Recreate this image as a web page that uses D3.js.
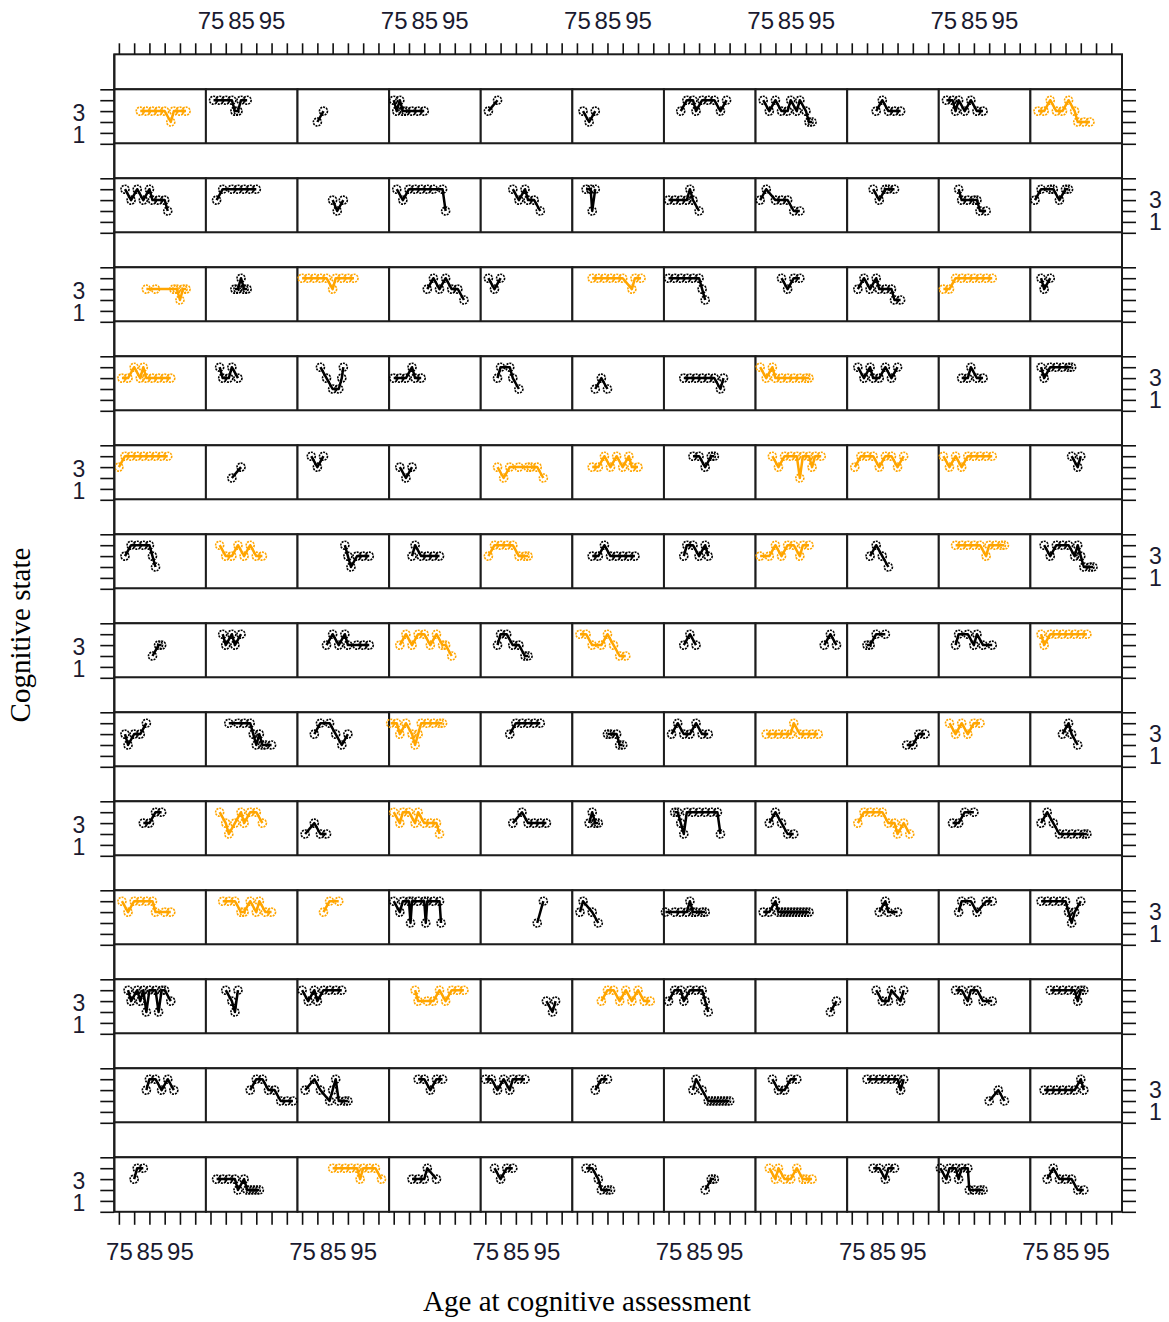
<!DOCTYPE html>
<html>
<head>
<meta charset="utf-8">
<script src="https://cdn.jsdelivr.net/npm/d3@7"></script>
<style>
  body { margin: 0; background: #ffffff; }
  svg { display: block; }
</style>
</head>
<body>
<svg id="chart" width="1169" height="1322"></svg>
<script>
// ---- axis values ----
const ageTicks = [75, 80, 85, 90, 95, 100];
const ageTickLabels = [75, 85, 95];
const stateTicks = [0, 1, 2, 3, 4, 5];
const stateTickLabels = [1, 3];
const xTitle = "Age at cognitive assessment";
const yTitle = "Cognitive state";

// ---- trajectories: one string per panel, "age:state" per assessment ----
const row01 = [
  "82:3 84:3 86:3 88:3 90:3 92:2 93:3 95:3 97:3",
  "76:4 78:4 80:4 82:4 83:3 84:3 85:4 87:4",
  "80:2 82:3",
  "75:4 76:3 77:4 78:3 79:3 81:3 83:3 85:3",
  "76:3 79:4",
  "77:3 79:2 81:3",
  "79:3 81:4 83:4 84:3 86:4 88:4 90:4 92:3 94:4",
  "76:4 78:3 80:4 82:3 84:3 85:4 87:3 88:4 90:3 91:2 92:2",
  "83:3 85:4 87:3 89:3 91:3",
  "76:4 78:4 79:3 80:4 82:3 84:4 86:3 88:3",
  "76:3 78:3 80:4 82:3 84:3 86:4 88:3 89:2 91:2 93:2"
];
const row02 = [
  "77:4 79:3 81:4 83:3 85:4 86:3 88:3 90:3 91:2",
  "77:3 79:4 82:4 84:4 86:4 88:4 90:4",
  "85:3 86.5:2 88.5:3",
  "76:4 78:3 80:4 82:4 84:4 86:4 88:4 91:4 92:2",
  "84:4 86:3 88:4 89:3 91:3 93:2",
  "78:4 79.5:4 80:2 81:4",
  "75:3 77:3 79:3 81:3 82:4 83:3 85:2",
  "75:3 77:4 80:3 82:3 84:3 86:2 88:2",
  "82:4 84:3 86:4 87:4 89:4",
  "80:4 81:3 83:3 85:3 86:3 87:2 89:2",
  "75:3 77:4 80:4 81:4 83:3 85:4 86:4"
];
const row03 = [
  "84:3 87:3 93:3 94:3 95:2 96:3 97:3",
  "83:3 84:3 85:4 86:3 87:3",
  "75:4 77:4 79:4 81:4 83:4 85:3 86:4 88:4 90:4 92:4",
  "86:3 88:4 90:3 92:4 94:3 96:3 98:2",
  "76:4 78:3 80:4",
  "80:4 82:4 84:4 86:4 88:4 90:4 93:3 94:4 96:4",
  "75:4 77:4 79:4 81:4 83:4 85:4 86:3 87:2",
  "82:4 84:3 86:4 88:4",
  "77:3 79:4 81:3 83:4 84:3 86:3 88:3 89:2 91:2",
  "75:3 77:3 79:4 81:4 83:4 85:4 87:4 89:4 91:4",
  "77:4 78:3 80:4"
];
const row04 = [
  "76:3 78:3 80:4 82:3 83:4 84:3 86:3 88:3 90:3 92:3",
  "78:4 79:3 81:3 82:4 84:3",
  "81:4 83:3 85:2 87:2 88:3 88.5:4",
  "75:3 77:3 79:3 81:4 82:3 84:3",
  "79:3 80:4 83:4 84:3 86:2",
  "81:2 83:3 85:2",
  "80:3 82:3 84:3 86:3 88:3 90:3 92:2 93:3",
  "75:4 77:3 79:4 80:3 82:3 84:3 86:3 88:3 90:3 91:3",
  "77:4 79:3 81:4 82:3 84:3 86:4 88:3 90:4",
  "81:3 83:3 84:4 86:3 88:3",
  "77:4 78:3 80:4 82:4 84:4 86:4 87:4"
];
const row05 = [
  "75:3 77:4 79:4 81:4 83:4 85:4 87:4 89:4 91:4",
  "82:2 85:3",
  "78:4 80:3 82:4",
  "77:3 79:2 81:3",
  "79:3 81:2 83:3 86:3 89:3 90:3 92:3 94:2",
  "80:3 82:3 84:4 86:3 88:4 90:3 92:4 93:3 95:3",
  "83:4 85:4 87:3 89:4 90:4",
  "79:4 81:3 83:4 85:4 87:4 88:2 89:4 91:4 92:3 93:4 95:4",
  "76:3 78:4 80:4 82:4 84:3 86:4 88:4 90:3 92:4",
  "75:4 77:3 79:4 81:3 83:4 85:4 87:4 89:4 91:4",
  "87:4 89:3 90:4"
];
const row06 = [
  "77:3 79:4 81:4 83:4 85:4 86:3 87:2",
  "78:4 80:3 82:3 84:4 86:3 88:4 90:3 92:3",
  "89:4 90:3 91:2 93:3 95:3 97:3",
  "81:3 82:4 84:3 86:3 88:3 90:3",
  "76:3 78:4 80:4 82:4 84:4 86:3 88:3 89:3",
  "80:3 82:3 84:4 86:3 88:3 90:3 92:3 94:3",
  "80:3 81:4 83:4 85:3 87:4 88:3",
  "75:3 78:3 80:4 82:3 84:4 86:4 88:3 89:4 91:4",
  "81:3 83:4 85:3 87:2",
  "79:4 81:4 83:4 85:4 87:4 89:3 90:4 92:4 94:4 95:4",
  "78:4 80:3 82:4 84:4 86:4 88:3 89:4 90:3 91:2 93:2 94:2"
];
const row07 = [
  "86:2 88:3 89:3",
  "79:4 80:3 82:4 83:3 85:4",
  "83:3 85:4 87:3 89:4 90:3 93:3 95:3 97:3",
  "77:3 79:4 81:3 83:4 85:4 87:3 89:4 91:3 92:3 94:2",
  "79:3 80:4 82:4 84:3 86:3 88:2 89:2",
  "76:4 78:4 80:3 83:3 85:4 87:3 89:2 91:2",
  "80:3 82:4 84:3",
  "96:3 98:4 100:3",
  "80:3 81:3 83:4 86:4",
  "79:3 80:4 83:4 85:3 86:4 88:3 91:3",
  "77:4 78:3 80:4 82:4 84:4 86:4 88:4 90:4 92:4"
];
const row08 = [
  "77:3 78:2 80:3 82:3 84:4",
  "81:4 84:4 86:4 88:4 89:3 90:2 91:3 92:2 93:2 95:2",
  "79:3 81:4 84:4 86:3 88:2 90:3",
  "74:4 76:4 77:3 79:4 81:3 82:2 83:3 84:4 86:4 88:4 90:4 91:4",
  "83:3 85:4 87:4 89:4 91:4 93:4",
  "85:3 86:3 88:3 89:2 90:2",
  "76:3 78:4 80:3 82:3 84:4 86:3 88:3",
  "77:3 79:3 81:3 83:3 85:3 86:4 88:3 90:3 92:3 94:3",
  "93:2 95:2 97:3 99:3",
  "77:4 79:3 81:4 83:3 85:4 87:4",
  "84:3 86:4 87:3 89:2"
];
const row09 = [
  "83:3 85:3 87:4 89:4",
  "78:4 80:3 81:2 83:3 85:4 86:3 88:4 90:4 92:3",
  "76:2 79:3 81:2 83:2",
  "75:4 77:3 78:4 80:4 82:3 83:4 85:3 87:3 89:3 90:2",
  "84:3 87:4 89:3 91:3 93:3 95:3",
  "79:3 80:4 81:3 82:3",
  "77:4 78:4 79:3 80:2 81:4 83:4 85:4 87:4 89:4 91:4 92:2",
  "78:3 80:4 82:3 84:2 86:2",
  "77:3 79:4 81:4 83:4 85:4 87:3 89:3 90:2 92:3 94:2",
  "78:3 80:3 82:4 85:4",
  "77:3 79:4 81:3 83:2 85:2 87:2 89:2 91:2 92:2"
];
const row10 = [
  "76:4 78:3 80:4 82:4 84:4 86:4 87:3 90:3 92:3",
  "79:4 81:4 83:4 85:3 86:3 88:4 90:3 91:4 93:3 95:3",
  "82:3 84:4 87:4",
  "75:4 77:3 78:4 80:4 80.5:2 81:4 83:4 85:4 85.5:2 86:4 88:4 90:4 90.5:2",
  "92:2 94:4",
  "76:3 77:4 80:3 82:2",
  "74:3 77:3 79:3 81:3 82:4 83:3 84:3 86:3 87:3",
  "76:3 78:3 80:4 81:3 82:3 83:3 84:3 85:3 86:3 87:3 88:3 89:3 90:3 91:3",
  "84:3 86:4 87:3 90:3",
  "80:3 81:4 84:4 86:3 89:4 91:4",
  "77:4 79:4 81:4 83:4 85:4 86:3 87:2 88:3 90:4"
];
const row11 = [
  "78:4 79:3 81:4 82:3 83:4 84:2 85:4 87:4 88:2 89:4 90:4 92:3",
  "80:4 82:3 83:2 84:4",
  "75:4 77:3 79:4 80:3 82:4 84:4 86:4 88:4",
  "82:4 83:3 86:3 88:3 90:4 92:3 94:4 96:4 98:4",
  "95:3 97:2 98:3",
  "83:3 85:4 87:4 89:3 91:4 93:3 95:4 97:3 99:3",
  "75:3 77:4 79:4 80:3 82:4 84:4 86:4 87:3 88:2",
  "98:2 100:3",
  "83:4 85:3 87:3 88:4 91:3 92:4",
  "79:4 81:4 83:3 84:4 86:4 88:3 91:3",
  "80:4 82:4 84:4 86:4 88:4 89:3 90:4 91:4"
];
const row12 = [
  "84:3 85:4 87:4 89:3 91:4 93:3",
  "88:3 90:4 92:4 94:3 96:3 98:2 100:2 102:2",
  "76:3 79:4 81:3 84:2 85:3 86:4 87:2 89:2 90:2",
  "83:4 85:4 87:3 89:4 91:4",
  "75:4 77:4 79:3 81:4 83:3 84:4 86:4 88:4",
  "81:3 83:4 85:4",
  "83:3 84:4 86:3 88:2 89:2 90:2 91:2 92:2 93:2 94:2 95:2",
  "79:4 81:3 83:3 85:4 87:4",
  "80:4 82:4 84:4 86:4 88:4 90:4 91:3 92:4",
  "90:2 93:3 95:2",
  "78:3 80:3 82:3 84:3 86:3 88:3 90:4 91:3"
];
const row13 = [
  "80:3 81:4 83:4",
  "77:3 79:3 81:3 83:3 84:2 86:3 87:2 88:2 89:2 90:2 91:2",
  "85:4 87:4 89:4 91:4 93:4 94:3 95:4 97:4 99:4 101:3",
  "81:3 83:3 85:3 86:4 89:3",
  "78:4 80:3 82:4 84:4",
  "78:4 80:4 82:3 83:2 85:2 86:2",
  "87:2 89:3 90:3",
  "78:4 80:3 81:4 83:3 85:3 87:4 89:3 90:3 92:3",
  "82:4 84:4 86:3 87:4 89:4",
  "74:4 76:3 77:4 79:4 80:3 81:4 83:4 83.5:2 85:2 87:2 88:2",
  "79:3 81:4 83:3 85:3 87:3 89:2 91:2"
];

// subjects drawn in the second group colour ("1"), one flag per column
const groupFlags = [
  "10000000001",
  "00000000000",
  "10100100010",
  "10000001000",
  "10001101110",
  "01001001010",
  "00010100001",
  "00010001010",
  "01010000100",
  "11100000000",
  "00010100000",
  "00000000000",
  "00100001000"
];

const rows = [row01, row02, row03, row04, row05, row06, row07,
              row08, row09, row10, row11, row12, row13];

// ---- layout ----
const nCols = 11, nRows = rows.length;
const gridLeft = 114.3, gridRight = 1122;
const colW = (gridRight - gridLeft) / nCols;
const firstPanelTop = 89.3, rowStep = 89, panelH = 54.5, stripH = 35;
const ageDomain = [73.5, 103.5];
const stateDomain = [0, 5];
const groupColors = ["#000000", "#FFA500"];
const frameColor = "#1c1c1c";
const tickFont = "'Liberation Sans', Arial, sans-serif";
const tickColor = "#1a1a30";
const titleFont = "'Liberation Serif', 'Times New Roman', serif";

const svg = d3.select("#chart");

const parse = s => s.trim().split(/\s+/).map(p => p.split(":").map(Number));

const panelTop = r => firstPanelTop + r * rowStep;
const xScale = c => d3.scaleLinear().domain(ageDomain)
  .range([gridLeft + c * colW, gridLeft + (c + 1) * colW]);
const yScale = r => d3.scaleLinear().domain(stateDomain)
  .range([panelTop(r) + panelH, panelTop(r)]);

// strips and panel frames
rows.forEach((row, r) => {
  svg.append("rect")
    .attr("x", gridLeft).attr("y", panelTop(r) - stripH)
    .attr("width", gridRight - gridLeft).attr("height", stripH)
    .attr("fill", "#fff").attr("stroke", frameColor).attr("stroke-width", 2);
  row.forEach((_, c) => {
    svg.append("rect")
      .attr("x", gridLeft + c * colW).attr("y", panelTop(r))
      .attr("width", colW).attr("height", panelH)
      .attr("fill", "#fff").attr("stroke", frameColor).attr("stroke-width", 2);
  });
});

// trajectories: joined points with open circles
const line = (x, y) => d3.line().x(d => x(d[0])).y(d => y(d[1]));
rows.forEach((row, r) => {
  const y = yScale(r);
  row.forEach((traj, c) => {
    const x = xScale(c);
    const pts = parse(traj);
    const col = groupColors[+groupFlags[r][c]];
    const g = svg.append("g");
    g.append("path")
      .attr("d", line(x, y)(pts))
      .attr("fill", "none").attr("stroke", col)
      .attr("stroke-width", 2.5).attr("stroke-linejoin", "round");
    g.selectAll("circle").data(pts).join("circle")
      .attr("cx", d => x(d[0])).attr("cy", d => y(d[1]))
      .attr("r", 4)
      .attr("fill", "none").attr("stroke", col)
      .attr("stroke-width", 1.6).attr("stroke-dasharray", "2 1");
  });
});

function styleAxis(g) {
  g.select(".domain").remove();
  g.selectAll(".tick line").attr("stroke", "#111").attr("stroke-width", 1.6);
  g.selectAll(".tick text")
    .attr("fill", tickColor)
    .style("font-family", tickFont)
    .style("font-size", "24px");
}

// x axes: top labels on odd columns, bottom labels on even columns
const bottomY = panelTop(nRows - 1) + panelH;
for (let c = 0; c < nCols; c++) {
  const x = xScale(c);
  svg.append("g")
    .attr("transform", `translate(0,${panelTop(0) - stripH})`)
    .call(d3.axisTop(x).tickValues(ageTicks).tickSize(11).tickPadding(14)
      .tickFormat(d => (c % 2 === 1 && ageTickLabels.includes(d)) ? d : ""))
    .call(styleAxis);
  svg.append("g")
    .attr("transform", `translate(0,${bottomY})`)
    .call(d3.axisBottom(x).tickValues(ageTicks).tickSize(13).tickPadding(18.5)
      .tickFormat(d => (c % 2 === 0 && ageTickLabels.includes(d)) ? d : ""))
    .call(styleAxis);
}

// y axes: left labels on odd rows, right labels on even rows
for (let r = 0; r < nRows; r++) {
  const y = yScale(r);
  svg.append("g")
    .attr("transform", `translate(${gridLeft},0)`)
    .call(d3.axisLeft(y).tickValues(stateTicks).tickSize(14).tickPadding(15)
      .tickFormat(d => (r % 2 === 0 && stateTickLabels.includes(d)) ? d : ""))
    .call(styleAxis)
    .call(g => g.selectAll(".tick text").style("font-size", "23px").attr("dy", "0.4em"));
  svg.append("g")
    .attr("transform", `translate(${gridRight},0)`)
    .call(d3.axisRight(y).tickValues(stateTicks).tickSize(14).tickPadding(13)
      .tickFormat(d => (r % 2 === 1 && stateTickLabels.includes(d)) ? d : ""))
    .call(styleAxis)
    .call(g => g.selectAll(".tick text").style("font-size", "23px"));
}

// outer left/right frame lines through the strips
[gridLeft, gridRight].forEach(xv => {
  svg.append("line")
    .attr("x1", xv).attr("x2", xv)
    .attr("y1", panelTop(0) - stripH).attr("y2", bottomY)
    .attr("stroke", frameColor).attr("stroke-width", 2);
});

// axis titles
svg.append("text")
  .attr("x", 587).attr("y", 1311)
  .attr("text-anchor", "middle")
  .style("font-family", titleFont)
  .style("font-size", "29px")
  .attr("fill", "#000")
  .text(xTitle);
svg.append("text")
  .attr("transform", "translate(30,635) rotate(-90)")
  .attr("text-anchor", "middle")
  .style("font-family", titleFont)
  .style("font-size", "29px")
  .attr("fill", "#000")
  .text(yTitle);
</script>
</body>
</html>
